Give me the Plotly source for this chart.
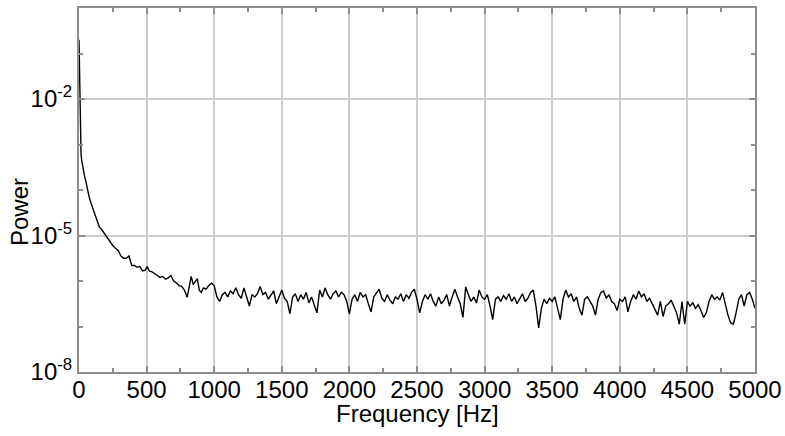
import plotly.graph_objects as go

# Power spectrum: frequency bins (Hz) and log10 of the power in each bin
freq_low_hz = [0, 5, 10, 15, 20, 30, 40, 50, 60, 75, 90, 105, 120, 135, 150, 170, 190,
               210, 230, 250, 270, 290, 310, 330, 350, 370, 390, 410, 430, 450, 470,
               490, 505, 520, 540, 560, 580, 600, 620, 640, 660, 680, 700, 720, 740,
               760, 780, 800, 815, 830, 845, 860, 875, 890, 905, 920, 940, 960, 980,
               1000, 1020]
freq_high_hz = list(range(1040, 5001, 20))
freq_hz = freq_low_hz + freq_high_hz

log_power = [
    -0.70, -1.80, -2.95, -3.20, -3.35, -3.55, -3.68, -3.80, -3.95, -4.15, -4.30, -4.42,
    -4.58, -4.70, -4.81, -4.88, -4.97, -5.05, -5.12, -5.22, -5.28, -5.33, -5.45, -5.50,
    -5.50, -5.45, -5.66, -5.66, -5.70, -5.68, -5.78, -5.76, -5.68, -5.78, -5.80, -5.85,
    -5.88, -5.92, -5.90, -5.96, -5.93, -5.88, -6.00, -6.04, -6.10, -6.12, -6.20, -6.36,
    -6.10, -5.90, -6.08, -6.00, -5.95, -6.20, -6.25, -6.15, -6.18, -6.10, -6.05, -6.10,
    -6.35,
    # 1040 .. 5000 Hz
    -6.45, -6.30, -6.25, -6.35, -6.22, -6.28, -6.15, -6.30, -6.38, -6.15,
    -6.35, -6.55, -6.30, -6.35, -6.28, -6.12, -6.30, -6.25, -6.40, -6.30,
    -6.22, -6.50, -6.35, -6.20, -6.38, -6.45, -6.72, -6.35, -6.28, -6.45,
    -6.30, -6.40, -6.25, -6.48, -6.35, -6.55, -6.70, -6.20, -6.35, -6.15,
    -6.30, -6.40, -6.28, -6.22, -6.35, -6.25, -6.30, -6.45, -6.72, -6.40,
    -6.30, -6.45, -6.25, -6.35, -6.30, -6.50, -6.68, -6.35, -6.25, -6.18,
    -6.38, -6.45, -6.30, -6.42, -6.50, -6.35, -6.40, -6.28, -6.45, -6.30,
    -6.38, -6.25, -6.18, -6.40, -6.70, -6.45, -6.30, -6.40, -6.28, -6.45,
    -6.55, -6.35, -6.50, -6.42, -6.30, -6.55, -6.35, -6.18, -6.35, -6.50,
    -6.80, -6.13, -6.30, -6.45, -6.35, -6.48, -6.20, -6.35, -6.40, -6.30,
    -6.55, -6.85, -6.40, -6.35, -6.45, -6.32, -6.40, -6.28, -6.45, -6.35,
    -6.50, -6.40, -6.28, -6.45, -6.38, -6.25, -6.20, -6.55, -7.03, -6.60,
    -6.40, -6.50, -6.38, -6.45, -6.35, -6.60, -6.85, -6.40, -6.20, -6.35,
    -6.28, -6.45, -6.35, -6.60, -6.75, -6.40, -6.35, -6.45, -6.55, -6.75,
    -6.40, -6.25, -6.22, -6.38, -6.30, -6.45, -6.50, -6.65, -6.40, -6.45,
    -6.35, -6.68, -6.45, -6.30, -6.40, -6.22, -6.35, -6.28, -6.45, -6.38,
    -6.50, -6.62, -6.75, -6.45, -6.78, -6.55, -6.50, -6.42, -6.55, -6.70,
    -6.95, -6.45, -6.95, -6.45, -6.55, -6.48, -6.60, -6.52, -6.65, -6.80,
    -6.70, -6.45, -6.30, -6.40, -6.35, -6.42, -6.25, -6.50, -6.75, -6.92,
    -6.95, -6.70, -6.40, -6.30, -6.55, -6.30, -6.25, -6.40, -6.60,
]
power = [10 ** v for v in log_power]

x_ticks = [0, 500, 1000, 1500, 2000, 2500, 3000, 3500, 4000, 4500, 5000]
y_ticks = [1e-8, 1e-5, 1e-2]
y_tick_text = ["10<sup>-8</sup>", "10<sup>-5</sup>", "10<sup>-2</sup>"]
y_minor = [1e-7, 1e-6, 1e-4, 1e-3, 1e-1]

font_family = "Liberation Sans, Arial, sans-serif"
axis_grey = "#8c8c8c"
grid_grey = "#cccccc"
text_size = 24

fig = go.Figure(go.Scatter(
    x=freq_hz, y=power, mode="lines",
    line=dict(color="black", width=1.4),
    showlegend=False,
))

fig.update_layout(
    width=785, height=436,
    margin=dict(l=79, r=30, t=8, b=64),
    paper_bgcolor="white", plot_bgcolor="white",
    font=dict(family=font_family, size=text_size, color="black"),
)

fig.update_xaxes(
    range=[0, 5000], automargin=False,
    tickmode="array", tickvals=x_ticks,
    ticks="inside", ticklen=6, tickwidth=2, tickcolor=axis_grey,
    ticklabelstandoff=-5,
    showline=True, linecolor=axis_grey, linewidth=2, mirror="ticks",
    showgrid=True, gridcolor=grid_grey, gridwidth=1.5,
    zeroline=False,
    minor=dict(tickmode="linear", tick0=0, dtick=250, ticks="inside",
               ticklen=4, tickwidth=2, tickcolor=axis_grey, showgrid=False),
    tickfont=dict(size=text_size, color="black"),
)

fig.update_yaxes(
    type="log", range=[-8, 0], automargin=False,
    tickmode="array", tickvals=y_ticks, ticktext=y_tick_text,
    ticks="inside", ticklen=6, tickwidth=2, tickcolor=axis_grey,
    showline=True, linecolor=axis_grey, linewidth=2, mirror="ticks",
    showgrid=True, gridcolor=grid_grey, gridwidth=1.5,
    zeroline=False,
    minor=dict(tickmode="array", tickvals=y_minor, ticks="inside",
               ticklen=4, tickwidth=2, tickcolor=axis_grey, showgrid=False),
    tickfont=dict(size=text_size, color="black"),
)

# Axis titles placed as annotations in paper coordinates
fig.add_annotation(
    text="Frequency [Hz]", xref="paper", yref="paper",
    x=0.5, y=-0.114, xanchor="center", yanchor="middle",
    showarrow=False, font=dict(size=text_size, color="black"),
)
fig.add_annotation(
    text="Power", xref="paper", yref="paper",
    x=-0.087, y=0.44, xanchor="center", yanchor="middle", textangle=-90,
    showarrow=False, font=dict(size=text_size, color="black"),
)

fig.write_html("out.html")
